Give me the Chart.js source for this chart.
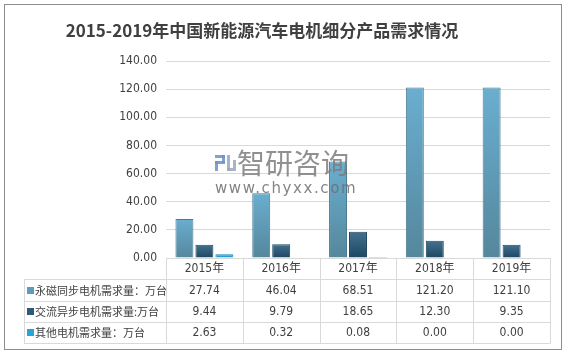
<!DOCTYPE html>
<html>
<head>
<meta charset="utf-8">
<script src="https://cdn.jsdelivr.net/npm/chart.js@4"></script>
<style>
html,body{margin:0;padding:0;background:#fff;}
canvas{display:block;}
</style>
</head>
<body>
<canvas id="c" width="567" height="355"></canvas>
<script>
// ---- data ----
const titleText = '2015-2019年中国新能源汽车电机细分产品需求情况';
const categories = ['2015年', '2016年', '2017年', '2018年', '2019年'];
const seriesNames = ['永磁同步电机需求量：万台', '交流异步电机需求量:万台', '其他电机需求量：万台'];
const permanentMagnet = [27.74, 46.04, 68.51, 121.20, 121.10];
const acAsync = [9.44, 9.79, 18.65, 12.30, 9.35];
const otherMotor = [2.63, 0.32, 0.08, 0.00, 0.00];
const yTicks = [0, 20, 40, 60, 80, 100, 120, 140];

const numFont = "'Liberation Sans Narrow', 'DejaVu Sans Condensed', 'Noto Sans CJK SC', sans-serif";
const cjkFont = "'Noto Sans CJK SC', sans-serif";
const textColor = '#404040';
const gridColor = '#d9d9d9';

const palette = [
  {top: '#6aaed0', bottom: '#55879c', border: '#4a7b91', legend: '#5f9cb8'},
  {top: '#41718f', bottom: '#1d4763', border: '#21465e', legend: '#2e5a78'},
  {top: '#34b4ea', bottom: '#1b90c6', border: '#1a85b6', legend: '#27a4dc'}
];

function barGradient(idx) {
  return function(ctx) {
    const chart = ctx.chart;
    const area = chart.chartArea;
    if (!area || ctx.type !== 'data') return palette[idx].top;
    const ys = chart.scales.y;
    const v = ctx.parsed ? ctx.parsed.y : 0;
    const top = ys.getPixelForValue(v);
    const bottom = ys.getPixelForValue(0);
    const g = chart.ctx.createLinearGradient(0, Math.min(top, bottom - 1), 0, bottom);
    g.addColorStop(0, palette[idx].top);
    g.addColorStop(1, palette[idx].bottom);
    return g;
  };
}

const seriesValues = [permanentMagnet, acAsync, otherMotor];

const frameAndTable = {
  id: 'frameAndTable',
  beforeDraw(chart) {
    const c = chart.ctx;
    c.save();
    c.fillStyle = '#ffffff';
    c.fillRect(0, 0, chart.width, chart.height);
    // title
    c.fillStyle = textColor;
    c.font = "bold 17px " + cjkFont;
    c.textAlign = 'center';
    c.textBaseline = 'middle';
    c.fillText(titleText, 262, 31);
    c.restore();
  },
  afterDatasetsDraw(chart) {
    // watermark
    const c = chart.ctx;
    c.save();
    c.globalAlpha = 0.85;
    c.fillStyle = '#6f8fc9';
    c.fillRect(215, 155, 10, 3);
    c.fillRect(222, 155, 3, 8);
    c.fillRect(215, 161, 10, 3);
    c.fillRect(215, 161, 3, 10);
    c.fillStyle = '#9aa7bd';
    c.fillRect(227, 155, 3, 16);
    c.fillRect(227, 168, 9, 3);
    c.fillRect(233, 160, 3, 8);
    c.fillStyle = '#7d7d7d';
    c.font = "28px " + cjkFont;
    c.textBaseline = 'middle';
    c.textAlign = 'left';
    c.fillText('智研咨询', 237, 163);
    c.fillStyle = '#6f6f6f';
    c.font = "15px 'DejaVu Sans', sans-serif";
    try { c.letterSpacing = '1.6px'; } catch (e) {}
    c.fillText('www.chyxx.com', 215, 189);
    c.restore();
  },
  afterDraw(chart) {
    const c = chart.ctx;
    const a = chart.chartArea;
    const n = categories.length;
    const cw = (a.right - a.left) / n;
    const tableLeft = 24;
    const tableBottom = 343;
    const rowH = (tableBottom - a.bottom) / 4;
    c.save();
    c.strokeStyle = gridColor;
    c.lineWidth = 1;
    c.beginPath();
    c.moveTo(a.left, a.bottom + 0.5); c.lineTo(a.right, a.bottom + 0.5);
    for (let r = 1; r <= 4; r++) {
      const y = Math.round(a.bottom + r * rowH) + 0.5;
      c.moveTo(tableLeft, y); c.lineTo(a.right, y);
    }
    for (let k = 0; k <= n; k++) {
      const x = Math.round(a.left + k * cw) + 0.5;
      c.moveTo(x, a.bottom); c.lineTo(x, tableBottom + 0.5);
    }
    c.moveTo(tableLeft + 0.5, Math.round(a.bottom + rowH)); c.lineTo(tableLeft + 0.5, tableBottom + 0.5);
    c.stroke();

    c.fillStyle = textColor;
    c.textBaseline = 'middle';
    c.textAlign = 'center';
    c.font = "12px " + numFont;
    for (let i = 0; i < n; i++) {
      const x = chart.scales.x.getPixelForValue(i);
      c.fillText(categories[i], x, a.bottom + rowH / 2 + 0.5);
      for (let s = 0; s < seriesValues.length; s++) {
        c.fillText(seriesValues[s][i].toFixed(2), x, a.bottom + rowH * (s + 1.5) + 0.5);
      }
    }
    c.textAlign = 'left';
    c.font = "11px " + cjkFont;
    for (let s = 0; s < seriesNames.length; s++) {
      const yc = a.bottom + rowH * (s + 1.5) + 0.5;
      c.fillStyle = palette[s].legend;
      c.fillRect(27, Math.round(yc - 3.5), 7, 7);
      c.fillStyle = textColor;
      c.fillText(seriesNames[s], 35, yc);
    }

    c.strokeStyle = '#8c8c8c';
    c.lineWidth = 1;
    c.strokeRect(4.5, 4.5, 557, 345);
    c.restore();
  }
};

new Chart(document.getElementById('c'), {
  type: 'bar',
  data: {
    labels: categories,
    datasets: seriesValues.map((vals, i) => ({
      label: seriesNames[i],
      data: vals,
      backgroundColor: barGradient(i),
      borderColor: palette[i].border,
      borderWidth: 1,
      categoryPercentage: 0.78,
      barPercentage: 0.9
    }))
  },
  options: {
    responsive: false,
    animation: false,
    devicePixelRatio: 1,
    layout: {padding: {left: 0, right: 17, top: 61, bottom: 97}},
    plugins: {
      legend: {display: false},
      tooltip: {enabled: false},
      title: {display: false}
    },
    scales: {
      x: {display: false},
      y: {
        min: 0, max: 140,
        afterBuildTicks(scale) { scale.ticks = yTicks.map(v => ({value: v})); },
        afterFit(scale) { scale.width = 166; },
        grid: {color: gridColor, drawTicks: false},
        border: {display: false},
        ticks: {
          padding: 9,
          color: textColor,
          font: {family: numFont, size: 12},
          callback: v => Number(v).toFixed(2)
        }
      }
    }
  },
  plugins: [frameAndTable]
});
</script>
</body>
</html>
